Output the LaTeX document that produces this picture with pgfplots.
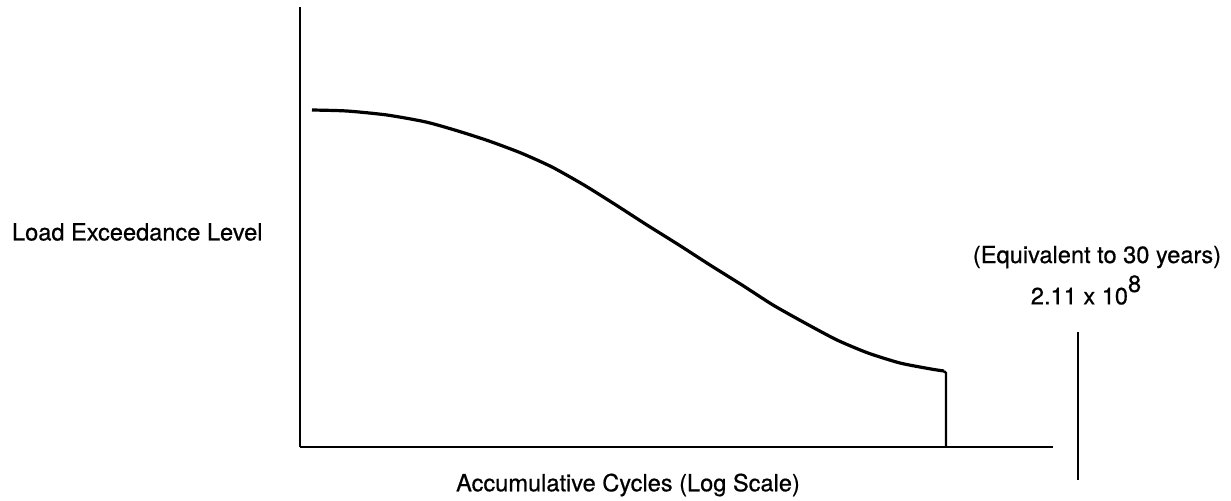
\documentclass[border=0pt]{standalone}
\usepackage{pgfplots}
\pgfplotsset{compat=1.18}
\usepackage{fontspec}
\setmainfont{TeX Gyre Heros}[FakeBold=0.6,AutoFakeBold=0.6]
\begin{document}
\begin{tikzpicture}[x=0.5pt,y=0.5pt]
\begin{axis}[
  scale only axis,
  width=376.5pt, height=220pt,
  xmin=300, xmax=1053, ymin=-447, ymax=-7,
  axis x line=bottom, axis y line=left,
  axis line style={line width=1.1pt,-},
  xtick=\empty, ytick=\empty,
  clip=false,
  font=\fontsize{11.8}{14}\selectfont,
]
\addplot[black, line width=1.6pt, smooth, tension=0.4] coordinates {
(312,-110) (347,-111) (387,-115) (426,-122) (458,-131) (489,-141) (521,-153) (552,-167) (584,-185) (616,-205) (647,-225) (679,-245) (710,-265) (742,-285) (773,-305) (805,-323) (837,-340) (868,-353) (900,-363) (931,-369) (944,-371)};
\addplot[black, line width=1.2pt] coordinates {(944,-371) (946,-373) (946,-447)};
\addplot[black, line width=1pt] coordinates {(1078,-332) (1078,-480)};
\node[anchor=west] at (axis cs:5,-232) {\bfseries Load Exceedance Level};
\node at (axis cs:628,-485) {\bfseries Accumulative Cycles (Log Scale)};
\node at (axis cs:1097,-257) {\bfseries (Equivalent to 30 years)};
\node at (axis cs:1086,-290) {\bfseries 2.11 x 10\raisebox{1.0ex}{8}};
\coordinate (bl) at (axis cs:0,-500);
\coordinate (tr) at (axis cs:1231,0);
\end{axis}
\pgfresetboundingbox
\path[use as bounding box] (bl) rectangle (tr);
\end{tikzpicture}
\end{document}
